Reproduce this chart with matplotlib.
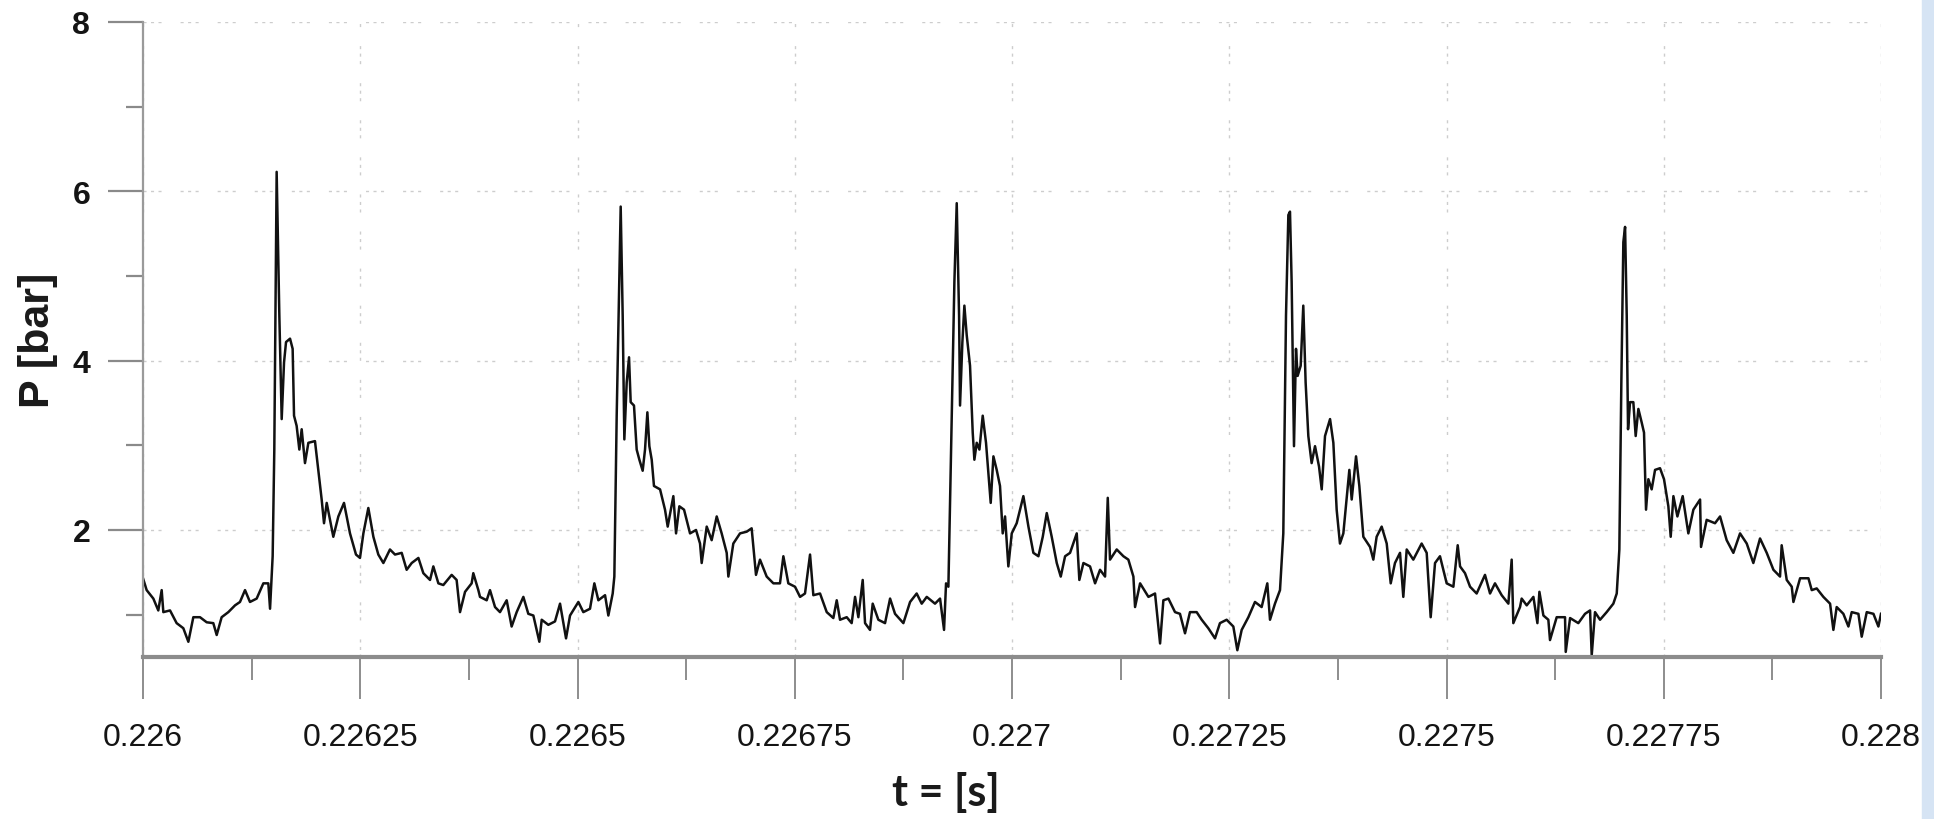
import numpy as np
import matplotlib
matplotlib.use("Agg")
import matplotlib.pyplot as plt
from matplotlib import font_manager

# --- Données (t en µs après 0.226 s, P en bar) ---
cycle1_t = [0, 4.2, 11.9, 17.6, 21.5, 23.4, 31.1, 38.7, 46.4, 52.2,
            57.9, 65.6, 73.3, 80.9, 84.8, 90.5, 98.2, 105.9, 111.6, 117.4,
            123.1, 130.8, 138.5, 144.2, 146.2, 149.2, 151.1, 153.8, 156.9, 159.6,
            162.3, 164.6, 169.2, 172.2, 173.8, 176.8, 179.9, 182.6, 186.4, 190.3,
            197.9, 205.6, 208.3, 211.4, 219.0, 224.8, 231.3, 238.2, 245.1, 249.7,
            253.6, 259.3, 265.1, 270.8, 276.6, 284.2, 290.0, 297.7, 303.4, 309.2,
            316.9, 322.6, 330.3, 334.1, 339.9, 345.6, 355.2, 360.9, 364.8, 370.6,
            378.2, 380.1, 385.9]
cycle1_p = [1.43, 1.29, 1.19, 1.05, 1.29, 1.03, 1.05, 0.90, 0.84, 0.68,
            0.97, 0.97, 0.91, 0.90, 0.76, 0.97, 1.03, 1.11, 1.15, 1.29,
            1.15, 1.19, 1.37, 1.37, 1.07, 1.69, 2.95, 6.23, 4.53, 3.31,
            3.98, 4.22, 4.26, 4.14, 3.35, 3.23, 2.95, 3.19, 2.79, 3.03,
            3.05, 2.36, 2.08, 2.32, 1.92, 2.16, 2.32, 1.96, 1.71, 1.67,
            1.96, 2.26, 1.92, 1.71, 1.61, 1.77, 1.71, 1.73, 1.53, 1.61,
            1.67, 1.49, 1.41, 1.57, 1.37, 1.35, 1.47, 1.41, 1.03, 1.27,
            1.37, 1.49, 1.29]

cycle2_t = [387.8, 395.5, 399.3, 405.1, 410.8, 418.5, 424.2, 430.0, 437.7, 443.4,
            449.2, 456.1, 458.8, 466.4, 474.1, 479.9, 486.8, 491.4, 501.0, 506.7,
            514.4, 519.4, 524.0, 531.7, 535.5, 540.5, 542.4, 545.1, 549.7, 552.0,
            553.9, 556.6, 559.3, 561.2, 565.0, 568.1, 571.2, 575.0, 577.7, 580.4,
            582.7, 585.4, 588.0, 595.0, 600.7, 603.8, 610.3, 613.4, 617.2, 622.6,
            629.5, 636.4, 641.0, 642.9, 648.7, 654.4, 660.2, 665.9, 671.7, 673.6,
            679.3, 687.0, 694.7, 700.4, 705.4, 710.0, 717.7, 725.4, 733.0, 736.9,
            742.6, 750.3, 756.1, 761.8, 767.6, 771.4, 779.1]
cycle2_p = [1.21, 1.17, 1.29, 1.09, 1.03, 1.17, 0.86, 1.03, 1.21, 1.01,
            0.99, 0.68, 0.94, 0.88, 0.92, 1.13, 0.72, 0.99, 1.15, 1.03,
            1.07, 1.37, 1.17, 1.23, 0.99, 1.25, 1.45, 3.35, 5.82, 4.53,
            3.07, 3.74, 4.04, 3.51, 3.47, 2.95, 2.83, 2.70, 2.95, 3.39,
            2.99, 2.83, 2.52, 2.48, 2.24, 2.04, 2.40, 1.96, 2.28, 2.24,
            1.96, 2.00, 1.84, 1.61, 2.04, 1.88, 2.16, 1.96, 1.73, 1.45,
            1.84, 1.96, 1.98, 2.02, 1.47, 1.65, 1.45, 1.37, 1.37, 1.69,
            1.37, 1.33, 1.21, 1.25, 1.71, 1.23, 1.25]

cycle3_t = [786.8, 794.4, 798.3, 802.1, 809.8, 815.5, 819.4, 823.2, 828.2, 830.9,
            836.6, 839.7, 846.2, 853.9, 859.7, 865.4, 875.0, 882.7, 890.3, 896.1,
            901.9, 911.4, 917.2, 921.8, 924.1, 926.8, 930.6, 933.7, 936.4, 939.1,
            940.2, 942.9, 945.2, 947.9, 951.7, 954.8, 956.7, 959.4, 962.5, 966.3,
            970.1, 972.8, 975.5, 978.6, 982.4, 986.2, 989.3, 992.0, 995.8, 999.7,
            1005.4, 1013.1, 1018.9, 1024.6, 1030.4, 1035.4, 1040.0, 1045.7, 1051.5, 1056.1,
            1061.1, 1066.8, 1074.5, 1077.5, 1082.2, 1089.8, 1095.6, 1101.3, 1107.1, 1110.2,
            1112.8, 1120.5, 1128.2, 1133.9, 1139.7, 1141.6, 1147.4, 1157.0, 1164.6, 1170.4,
            1174.2, 1180.0, 1187.6]
cycle3_p = [1.03, 0.96, 1.17, 0.94, 0.97, 0.90, 1.21, 0.97, 1.41, 0.90,
            0.82, 1.13, 0.94, 0.90, 1.19, 1.01, 0.90, 1.15, 1.25, 1.13,
            1.21, 1.13, 1.19, 0.82, 1.37, 1.33, 3.35, 4.93, 5.86, 4.53,
            3.47, 4.22, 4.65, 4.30, 3.94, 3.15, 2.83, 3.03, 2.95, 3.35,
            3.03, 2.68, 2.32, 2.87, 2.71, 2.52, 1.96, 2.16, 1.57, 1.96,
            2.08, 2.40, 2.04, 1.73, 1.69, 1.92, 2.20, 1.92, 1.61, 1.45,
            1.69, 1.73, 1.96, 1.41, 1.61, 1.57, 1.37, 1.53, 1.45, 2.38,
            1.65, 1.77, 1.69, 1.65, 1.45, 1.09, 1.37, 1.21, 1.25, 0.66,
            1.17, 1.19, 1.03]

cycle4_t = [1193.3, 1199.1, 1204.8, 1212.5, 1218.3, 1225.9, 1233.6, 1239.3, 1247.0, 1254.7,
            1259.3, 1264.3, 1272.0, 1279.6, 1287.3, 1293.8, 1296.9, 1302.6, 1308.4, 1312.2,
            1315.3, 1318.0, 1319.9, 1321.8, 1324.5, 1326.8, 1328.7, 1332.2, 1335.2, 1337.9,
            1341.0, 1344.8, 1348.7, 1353.3, 1356.4, 1360.2, 1366.0, 1369.8, 1373.6, 1377.4,
            1381.3, 1388.2, 1390.9, 1395.9, 1399.7, 1404.3, 1412.0, 1415.8, 1419.6, 1425.4,
            1431.2, 1435.8, 1440.7, 1446.5, 1450.3, 1454.2, 1461.8, 1471.4, 1477.2, 1481.8,
            1486.8, 1492.5, 1500.2, 1507.9, 1512.9, 1515.6, 1521.3, 1527.1, 1534.7, 1544.3,
            1550.1, 1555.8, 1563.5, 1571.2, 1575.0, 1576.9, 1584.6]
cycle4_p = [1.01, 0.78, 1.03, 1.03, 0.94, 0.84, 0.72, 0.90, 0.94, 0.86,
            0.58, 0.82, 0.97, 1.15, 1.09, 1.37, 0.94, 1.13, 1.29, 1.96,
            4.53, 5.72, 5.76, 4.93, 2.99, 4.14, 3.82, 3.94, 4.65, 3.74,
            3.11, 2.79, 2.99, 2.75, 2.48, 3.11, 3.31, 3.03, 2.24, 1.84,
            1.96, 2.71, 2.36, 2.87, 2.52, 1.92, 1.80, 1.65, 1.92, 2.04,
            1.84, 1.37, 1.61, 1.73, 1.21, 1.77, 1.65, 1.84, 1.73, 0.97,
            1.61, 1.69, 1.37, 1.33, 1.82, 1.57, 1.49, 1.33, 1.25, 1.47,
            1.25, 1.37, 1.23, 1.13, 1.65, 0.90, 1.09]

cycle5_t = [1586.5, 1592.3, 1600.0, 1604.6, 1606.9, 1611.5, 1617.2, 1619.1, 1626.8, 1636.4,
            1637.2, 1642.2, 1651.7, 1659.4, 1665.2, 1667.1, 1670.9, 1676.7, 1684.3, 1692.0,
            1695.9, 1698.9, 1701.2, 1703.5, 1705.5, 1707.4, 1708.9, 1711.2, 1715.0, 1717.7,
            1720.8, 1724.6, 1727.3, 1729.6, 1732.3, 1736.1, 1740.0, 1745.7, 1750.3, 1755.3,
            1758.0, 1761.1, 1765.7, 1771.8, 1778.3, 1784.1, 1791.8, 1792.9, 1799.4, 1809.0,
            1814.8, 1822.4, 1830.1, 1837.8, 1845.5, 1853.1, 1860.8, 1868.5, 1876.2, 1883.8,
            1885.7, 1891.5, 1897.3, 1899.2, 1906.9, 1916.5, 1920.3, 1926.0, 1933.7, 1941.4,
            1945.2, 1949.0, 1956.7, 1962.5, 1966.3, 1974.0, 1977.8, 1983.6, 1991.3, 1997.0,
            2000.0]
cycle5_p = [1.19, 1.11, 1.21, 0.90, 1.27, 0.99, 0.94, 0.70, 0.97, 0.97,
            0.56, 0.96, 0.90, 1.01, 1.05, 0.52, 1.03, 0.94, 1.03, 1.13,
            1.25, 1.77, 3.74, 5.40, 5.58, 4.53, 3.19, 3.51, 3.51, 3.11,
            3.43, 3.27, 3.15, 2.24, 2.60, 2.48, 2.71, 2.73, 2.60, 2.28,
            1.92, 2.40, 2.16, 2.40, 1.96, 2.24, 2.36, 1.80, 2.12, 2.08,
            2.16, 1.88, 1.73, 1.96, 1.84, 1.61, 1.90, 1.73, 1.53, 1.45,
            1.82, 1.41, 1.33, 1.15, 1.43, 1.43, 1.29, 1.31, 1.21, 1.13,
            0.82, 1.09, 1.01, 0.86, 1.03, 1.01, 0.74, 1.03, 1.01, 0.86,
            1.01]

x_ticks = [0.226, 0.22625, 0.2265, 0.22675, 0.227, 0.22725, 0.2275, 0.22775, 0.228]
x_labels = ["0.226", "0.22625", "0.2265", "0.22675", "0.227",
            "0.22725", "0.2275", "0.22775", "0.228"]
y_ticks = [2, 4, 6, 8]
y_labels = ["2", "4", "6", "8"]

t_us = np.array(cycle1_t + cycle2_t + cycle3_t + cycle4_t + cycle5_t)
p_bar = np.array(cycle1_p + cycle2_p + cycle3_p + cycle4_p + cycle5_p)
t = 0.226 + t_us * 1e-6

# --- Polices ---
installed = {f.name for f in font_manager.fontManager.ttflist}
label_font = "Lato" if "Lato" in installed else "DejaVu Sans"

# --- Figure ---
fig = plt.figure(figsize=(19.34, 8.2), dpi=100)
ax = fig.add_axes([143 / 1934, 1 - 658 / 820, 1738 / 1934, 635 / 820])

ax.plot(t, p_bar, color="#111111", linewidth=1.8, solid_joinstyle="round")

ax.set_xlim(0.226, 0.228)
ax.set_ylim(0.5, 8)

ax.set_xticks(x_ticks)
ax.set_xticklabels(x_labels)
ax.set_xticks([0.226125 + 0.00025 * i for i in range(8)], minor=True)
ax.set_yticks(y_ticks)
ax.set_yticklabels(y_labels)
ax.set_yticks([1, 3, 5, 7], minor=True)

for lab in ax.get_xticklabels():
    lab.set_fontfamily("Liberation Sans")
    lab.set_fontsize(23)
    lab.set_color("#141414")
for lab in ax.get_yticklabels():
    lab.set_fontfamily("Liberation Sans")
    lab.set_fontsize(23)
    lab.set_fontweight("bold")
    lab.set_color("#141414")

ax.tick_params(axis="x", which="major", length=30, width=1.2, color="#7a7a7a", pad=17)
ax.tick_params(axis="x", which="minor", length=16.5, width=1.2, color="#7a7a7a")
ax.tick_params(axis="y", which="major", length=25, width=1.6, color="#8a8a8a", pad=13)
ax.tick_params(axis="y", which="minor", length=12, width=1.6, color="#8a8a8a")

# grille pointillée grise
ax.grid(True, which="major", color="#cdcdcd", linewidth=1.0,
        dashes=[2.2, 3.2, 2.2, 3.2, 2.2, 13.7])

for side in ("top", "right"):
    ax.spines[side].set_visible(False)
ax.spines["left"].set_color("#9a9a9a")
ax.spines["left"].set_linewidth(1.6)
ax.spines["bottom"].set_color("#8c8c8c")
ax.spines["bottom"].set_linewidth(3.0)

# Titres des axes
fig.text(38 / 1934, 1 - 340 / 820, "P [bar]", rotation=90, ha="center", va="center",
         fontsize=31, fontweight="bold", family="Liberation Sans", color="#1a1a1a")
fig.text(946 / 1934, 1 - 793 / 820, "t = [s]", ha="center", va="center",
         fontsize=31, fontweight="bold", family=label_font, color="#1a1a1a")

# bande bleue sur le bord droit
fig.patches.append(plt.Rectangle((1922 / 1934, 0), 12 / 1934, 1,
                                 transform=fig.transFigure, color="#d6e4f4",
                                 zorder=0))

fig.savefig("out.png", dpi=100)
